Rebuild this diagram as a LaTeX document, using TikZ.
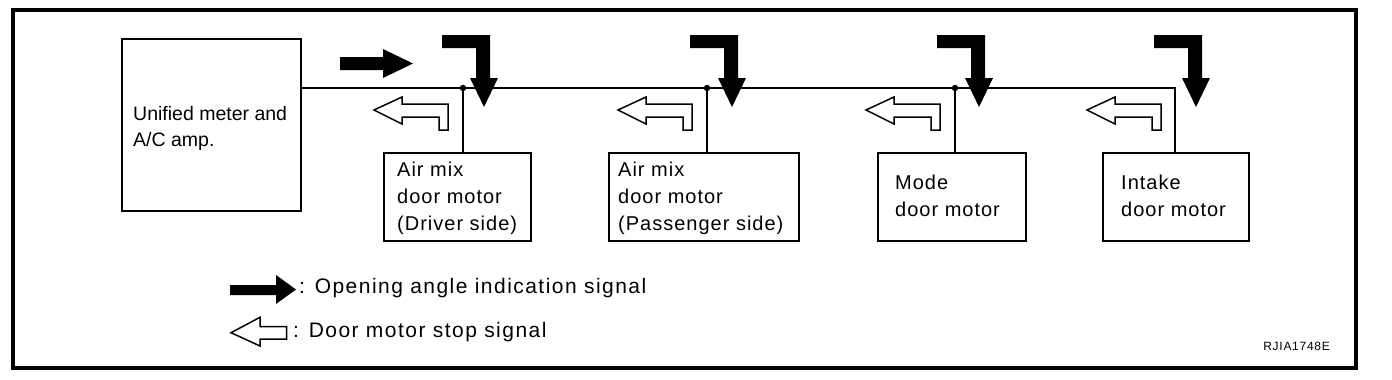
\documentclass[tikz,border=0pt]{standalone}
\usepackage{fontspec}
\setmainfont{Liberation Sans}
\newfontfamily\boxfont[LetterSpace=5]{Liberation Sans}
\newfontfamily\legfont[LetterSpace=7]{Liberation Sans}
\newfontfamily\codefont[LetterSpace=6]{Liberation Sans}
\begin{document}
\begin{tikzpicture}[x=1pt,y=-1pt,
  box/.style={draw,line width=2pt,anchor=north west,inner sep=0pt,minimum width=#1},
  amptxt/.style={anchor=base west,inner sep=0pt,font=\fontsize{19.5}{27}\selectfont},
  txt/.style={anchor=base west,inner sep=0pt,font=\boxfont\fontsize{20}{27}\selectfont},
  legtxt/.style={anchor=base west,inner sep=0pt,font=\legfont\fontsize{21}{27}\selectfont},
  wire/.style={line width=2pt},
  hollowarrow/.style={fill=white,draw=black,line width=1.5pt,line join=miter}]
\useasboundingbox (0,0) rectangle (1392,380);
\draw[line width=4pt] (12.5,10) rectangle (1355.5,368);
% boxes
\node[box=179pt,minimum height=172pt] (amp) at (121,38) {};
\node[box=147pt,minimum height=88pt] (b1) at (383,152) {};
\node[box=190pt,minimum height=88pt] (b2) at (608,152) {};
\node[box=148pt,minimum height=88pt] (b3) at (877,152) {};
\node[box=146pt,minimum height=88pt] (b4) at (1102,152) {};
% texts
\node[amptxt] (tampa) at (133,120) {Unified meter and};
\node[amptxt] (tampb) at (133,146.7) {A/C amp.};
\node[txt] (t1a) at (397,176.7) {Air mix};
\node[txt] (t1b) at (397,203.4) {door motor};
\node[txt] (t1c) at (397,230.1) {(Driver side)};
\node[txt] (t2a) at (618,176.7) {Air mix};
\node[txt] (t2b) at (618,203.4) {door motor};
\node[txt] (t2c) at (618,230.1) {(Passenger side)};
\node[txt] (t3a) at (895,189.3) {Mode};
\node[txt] (t3b) at (895,216.7) {door motor};
\node[txt] (t4a) at (1121,189.3) {Intake};
\node[txt] (t4b) at (1121,216.7) {door motor};
% bus
\coordinate (j1) at (463,88);
\coordinate (j2) at (707,88);
\coordinate (j3) at (955,88);
\coordinate (c4) at (1175,88);
\draw[wire] (amp.east |- j1) -- (c4) -- (c4 |- b4.north);
\draw[wire] (j1) -- (j1 |- b1.north);
\draw[wire] (j2) -- (j2 |- b2.north);
\draw[wire] (j3) -- (j3 |- b3.north);
\foreach \j in {j1,j2,j3} \fill (\j) circle (3.2pt);
% top horizontal solid arrow
\fill (340,57) -- (383,57) -- (383,49) -- (413,63.5) -- (383,78) -- (383,70) -- (340,70) -- cycle;
% bent solid arrows
\foreach \L in {442,690,937,1154}{
  \fill (\L,35) -- (\L+48,35) -- (\L+48,78) -- (\L+56,78) -- (\L+42,107) -- (\L+28,78) -- (\L+34,78) -- (\L+34,48) -- (\L,48) -- cycle;
}
% bent hollow arrows
\foreach \T in {374,618,866,1087}{
  \draw[hollowarrow] (\T,110) -- (\T+28,97) -- (\T+28,104) -- (\T+74,104) -- (\T+74,130) -- (\T+65,130) -- (\T+65,117) -- (\T+28,117) -- (\T+28,124) -- cycle;
}
% legend
\fill (230,285) -- (276,285) -- (276,275) -- (296,289.5) -- (276,304) -- (276,295) -- (230,295) -- cycle;
\draw[hollowarrow] (231,332.7) -- (260,317.3) -- (260,326.7) -- (286.7,326.7) -- (286.7,339) -- (260,339) -- (260,346) -- cycle;
\node[legtxt] (l1) at (299,293.3) {: Opening angle indication signal};
\node[legtxt] (l2) at (293,337.5) {: Door motor stop signal};
\node[anchor=base east,inner sep=0pt,font=\codefont\fontsize{12}{14}\selectfont] (code) at (1330,350) {RJIA1748E};
\end{tikzpicture}
\end{document}
